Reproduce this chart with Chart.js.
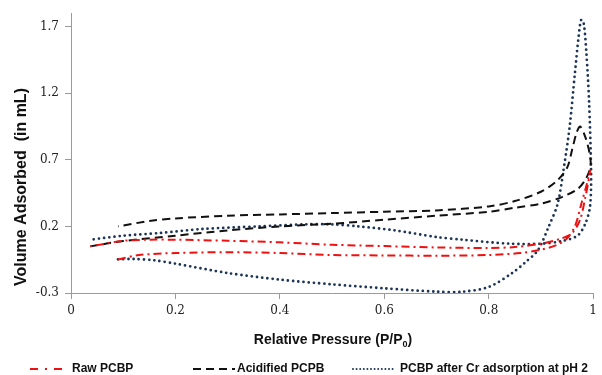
<!DOCTYPE html>
<html>
<head>
<meta charset="utf-8">
<script src="https://cdn.jsdelivr.net/npm/chart.js@4.4.1/dist/chart.umd.min.js"></script>
<style>
  html, body { margin: 0; padding: 0; background: #fff; }
  #wrap { width: 602px; height: 375px; }
</style>
</head>
<body>
<div id="wrap"><canvas id="isotherm-chart" width="602" height="375"></canvas></div>
<script>
  // Raw PCBP: lower branch left->right, then upper branch back
  const rawX = [0.09, 0.13, 0.2, 0.3, 0.4, 0.5, 0.6, 0.7, 0.8, 0.86, 0.9, 0.93, 0.95, 0.965, 0.978, 0.988, 0.994,
                0.992, 0.985, 0.975, 0.96, 0.94, 0.9, 0.85, 0.8, 0.7, 0.6, 0.5, 0.4, 0.3, 0.2, 0.15, 0.1, 0.037];
  const rawY = [-0.048, -0.015, 0.0, 0.006, 0.0, -0.015, -0.018, -0.02, -0.015, 0.0, 0.025, 0.06, 0.11, 0.2, 0.38, 0.52, 0.62,
                0.56, 0.42, 0.25, 0.15, 0.11, 0.07, 0.045, 0.038, 0.042, 0.052, 0.062, 0.08, 0.092, 0.1, 0.1, 0.092, 0.05];

  // Acidified PCPB
  const acidX = [0.037, 0.1, 0.2, 0.3, 0.4, 0.5, 0.6, 0.7, 0.8, 0.85, 0.9, 0.94, 0.97, 0.985, 0.995, 0.993, 0.985, 0.975,
                 0.968, 0.96, 0.95, 0.93, 0.9, 0.85, 0.8, 0.7, 0.6, 0.5, 0.4, 0.3, 0.2, 0.15, 0.09];
  const acidY = [0.05, 0.09, 0.13, 0.17, 0.2, 0.22, 0.25, 0.28, 0.31, 0.34, 0.37, 0.42, 0.48, 0.55, 0.65, 0.75, 0.87, 0.95,
                 0.9, 0.78, 0.64, 0.54, 0.46, 0.39, 0.35, 0.32, 0.31, 0.3, 0.29, 0.28, 0.26, 0.24, 0.2];

  // PCBP after Cr adsorption at pH 2
  const crX = [0.09, 0.12, 0.16, 0.2, 0.3, 0.4, 0.5, 0.6, 0.7, 0.75, 0.8, 0.845, 0.87, 0.894, 0.915, 0.932, 0.945, 0.955,
               0.965, 0.972, 0.977, 0.982, 0.987, 0.992, 0.996, 0.994, 0.985, 0.97, 0.94, 0.9, 0.84, 0.75, 0.7, 0.62,
               0.55, 0.5, 0.45, 0.36, 0.25, 0.17, 0.1, 0.037];
  const crY = [-0.047, -0.045, -0.055, -0.08, -0.15, -0.2, -0.235, -0.265, -0.29, -0.29, -0.255, -0.15, -0.07, 0.02, 0.2, 0.37, 0.67, 0.95,
               1.35, 1.62, 1.75, 1.72, 1.5, 1.15, 0.6, 0.35, 0.22, 0.13, 0.09, 0.07, 0.07, 0.1, 0.12, 0.17,
               0.2, 0.215, 0.215, 0.2, 0.18, 0.15, 0.13, 0.1];

  const seriesNames = ["Raw PCBP", "Acidified PCPB", "PCBP after Cr adsorption at pH 2"];
  const xTicks = [0, 0.2, 0.4, 0.6, 0.8, 1];
  const yTicks = [-0.3, 0.2, 0.7, 1.2, 1.7];

  function toPoints(xs, ys) {
    return xs.map((x, i) => ({ x: x, y: ys[i] }));
  }

  const redColor = "#ee1111";
  const blackColor = "#111111";
  const blueColor = "#1c3557";

  // axis titles + legend, drawn by hand so the layout matches
  const extrasPlugin = {
    id: "extras",
    afterDraw(chart) {
      const ctx = chart.ctx;
      ctx.save();
      ctx.fillStyle = "#111";

      // y title
      ctx.font = "bold 16px 'Liberation Sans', Arial, sans-serif";
      ctx.translate(22, 187);
      ctx.rotate(-Math.PI / 2);
      ctx.textAlign = "center";
      ctx.textBaseline = "middle";
      ctx.fillText("Volume Adsorbed  (in mL)", 0, 0);
      ctx.setTransform(1, 0, 0, 1, 0, 0);

      // x title with subscript
      const mainFont = "bold 14px 'Liberation Sans', Arial, sans-serif";
      const subFont = "bold 9px 'Liberation Sans', Arial, sans-serif";
      const partA = "Relative Pressure (P/P";
      const partB = "0";
      const partC = ")";
      ctx.font = mainFont;
      const wA = ctx.measureText(partA).width;
      const wC = ctx.measureText(partC).width;
      ctx.font = subFont;
      const wB = ctx.measureText(partB).width;
      let x = 333 - (wA + wB + wC) / 2;
      ctx.textAlign = "left";
      ctx.textBaseline = "alphabetic";
      ctx.font = mainFont;
      ctx.fillText(partA, x, 344);
      x += wA;
      ctx.font = subFont;
      ctx.fillText(partB, x, 347);
      x += wB;
      ctx.font = mainFont;
      ctx.fillText(partC, x, 344);

      // legend
      const legendY = 369;
      const items = [
        { x0: 30, x1: 63, tx: 72, ds: chart.data.datasets[0] },
        { x0: 193, x1: 235, tx: 237, ds: chart.data.datasets[1] },
        { x0: 353, x1: 393, tx: 400, ds: chart.data.datasets[2] }
      ];
      items.forEach(item => {
        ctx.save();
        ctx.strokeStyle = item.ds.borderColor;
        ctx.lineWidth = item.ds.legendWidth || item.ds.borderWidth;
        ctx.lineCap = item.ds.borderCapStyle || "butt";
        ctx.setLineDash(item.ds.legendDash || item.ds.borderDash || []);
        ctx.beginPath();
        ctx.moveTo(item.x0, legendY);
        ctx.lineTo(item.x1, legendY);
        ctx.stroke();
        ctx.restore();
        ctx.font = "bold 12px 'Liberation Sans', Arial, sans-serif";
        ctx.textBaseline = "middle";
        ctx.fillStyle = "#111";
        ctx.fillText(item.ds.label, item.tx, legendY);
      });
      ctx.restore();
    }
  };

  const canvas = document.getElementById("isotherm-chart");

  new Chart(canvas, {
    type: "scatter",
    data: {
      datasets: [
        {
          label: seriesNames[0],
          data: toPoints(rawX, rawY),
          showLine: true,
          borderColor: redColor,
          borderWidth: 2,
          borderDash: [8, 4, 2, 4],
          legendDash: [8, 7, 2, 7],
          pointRadius: 0,
          tension: 0.3
        },
        {
          label: seriesNames[1],
          data: toPoints(acidX, acidY),
          showLine: true,
          borderColor: blackColor,
          borderWidth: 2,
          borderDash: [8, 5],
          legendDash: [8, 5],
          pointRadius: 0,
          tension: 0.3
        },
        {
          label: seriesNames[2],
          data: toPoints(crX, crY),
          showLine: true,
          borderColor: blueColor,
          borderWidth: 2.8,
          borderDash: [0, 5.2],
          borderCapStyle: "round",
          legendDash: [0, 3.6],
          legendWidth: 2,
          pointRadius: 0,
          tension: 0.3
        }
      ]
    },
    options: {
      responsive: false,
      animation: false,
      layout: { padding: { left: 0, top: 13, right: 3, bottom: 0 } },
      plugins: {
        legend: { display: false },
        tooltip: { enabled: false }
      },
      scales: {
        x: {
          type: "linear",
          min: 0,
          max: 1,
          afterBuildTicks: s => { s.ticks = xTicks.map(v => ({ value: v })); },
          afterFit: s => { s.height = 82; },
          grid: { drawOnChartArea: false, tickLength: 6, color: "#9a9a9a" },
          border: { color: "#9a9a9a", width: 1 },
          ticks: {
            padding: 5,
            color: "#222",
            font: { family: "'DejaVu Serif', serif", size: 12 },
            maxRotation: 0,
            callback: v => String(v)
          }
        },
        y: {
          type: "linear",
          min: -0.3,
          max: 1.8,
          afterBuildTicks: s => { s.ticks = yTicks.map(v => ({ value: v })); },
          afterFit: s => { s.width = 71; },
          grid: { drawOnChartArea: false, tickLength: 6, color: "#9a9a9a" },
          border: { color: "#9a9a9a", width: 1 },
          ticks: {
            padding: 6,
            color: "#222",
            font: { family: "'DejaVu Serif', serif", size: 12 },
            callback: v => String(v)
          }
        }
      }
    },
    plugins: [extrasPlugin]
  });
</script>
</body>
</html>
